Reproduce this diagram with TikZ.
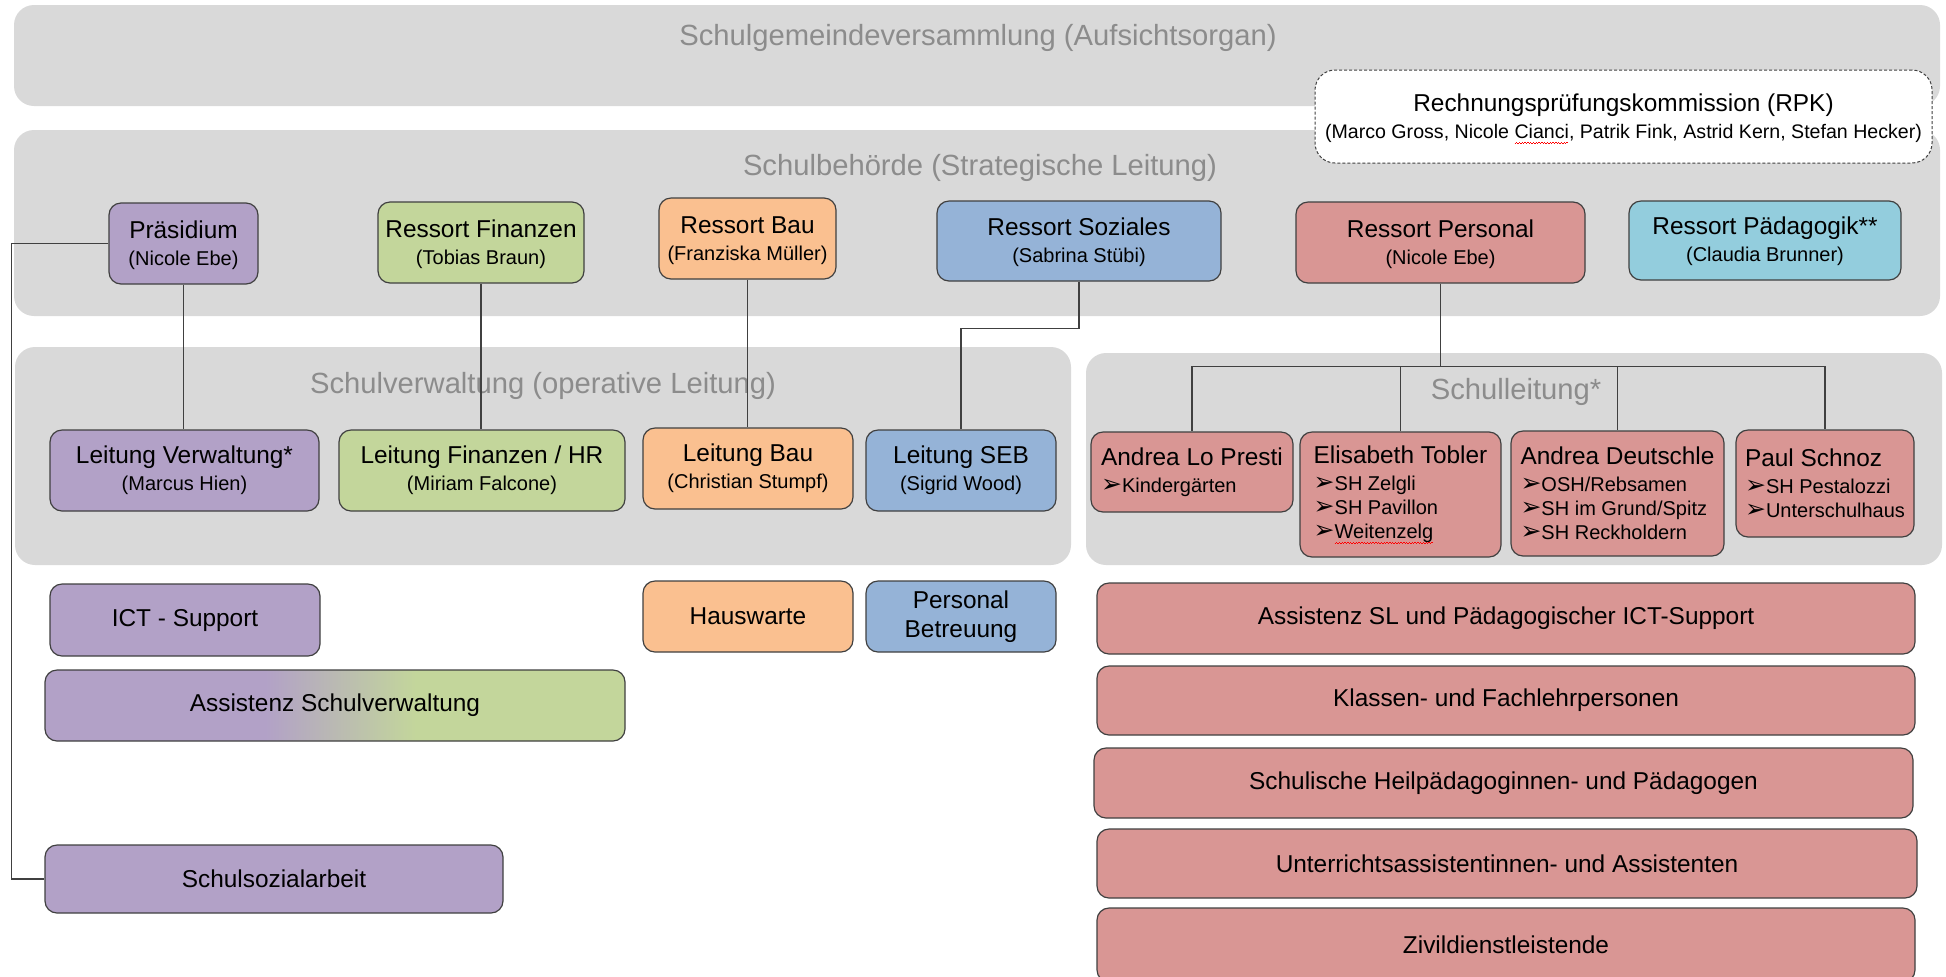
\documentclass[tikz,border=0pt]{standalone}
\usepackage{fontspec}
\setmainfont{Liberation Sans}
\newfontfamily\dingfont{DejaVu Sans}
\usepackage{xcolor}
\usetikzlibrary{positioning}

\definecolor{bandgray}{HTML}{D9D9D9}
\definecolor{titlegray}{HTML}{8C8C8C}
\definecolor{linegray}{HTML}{404040}
\definecolor{vwpurple}{HTML}{B2A1C7}
\definecolor{figreen}{HTML}{C3D69B}
\definecolor{bauorange}{HTML}{FAC090}
\definecolor{sozblue}{HTML}{95B3D7}
\definecolor{perspink}{HTML}{D99694}
\definecolor{paedcyan}{HTML}{93CDDD}

\pgfdeclarehorizontalshading{vwgradient}{100bp}{color(0bp)=(vwpurple); color(44bp)=(vwpurple); color(57bp)=(figreen); color(100bp)=(figreen)}

\newcommand{\namef}{\fontsize{12.2}{13.5}\selectfont}
\newcommand{\subf}{\fontsize{10}{12}\selectfont}
\newcommand{\titlef}{\fontsize{14.6}{17}\selectfont}
\newcommand{\bul}{{\dingfont\fontsize{12.5}{12}\selectfont\char"27A2}}
\newcommand{\bnl}{\\[-1.4pt]}
\newcommand{\spellwave}[1]{\setbox0\hbox{#1}\leavevmode\rlap{\color{red}\leaders\hbox{\raisebox{-2.5pt}{\rule{0.7pt}{0.4pt}}\raisebox{-2pt}{\rule{0.7pt}{0.4pt}}}\hskip\wd0}\box0}

\begin{document}
\begin{tikzpicture}[x=0.5pt, y=-0.5pt,
	span/.style n args={4}{at={({(#1+#3)/2},{(#2+#4)/2})}, minimum width={(#3-#1)*0.5pt}, minimum height={(#4-#2)*0.5pt}},
	band/.style={fill=bandgray, rounded corners=10pt, inner sep=0pt},
	bandtitle/.style={text=titlegray, font=\titlef, inner sep=0pt},
	orgbox/.style={draw=linegray, line width=0.6pt, rounded corners=6pt, inner sep=0pt, align=center, font=\namef},
	slbox/.style={orgbox, fill=perspink, align=left},
	link/.style={draw=linegray, line width=0.7pt}]
	\useasboundingbox (0,0) rectangle (1946,976);

	% bands
	\node[band, span={14}{5}{1940}{106}] (sgvband) {};
	\node[bandtitle] (sgv) at (978,38) {Schulgemeindeversammlung (Aufsichtsorgan)};
	\node[band, span={14}{130}{1940}{316}] (sbband) {};
	\node[bandtitle] (sb) at (980,168) {Schulbehörde (Strategische Leitung)};
	\node[band, span={15}{347}{1071}{565}] (svband) {};
	\node[bandtitle] (sv) at (543,386) {Schulverwaltung (operative Leitung)};
	\node[band, span={1086}{353}{1942}{565}] (slband) {};
	\node[bandtitle] (sl) at (1516,392) {Schulleitung*};

	\node[orgbox, dash pattern=on 1.5pt off 1pt, line width=0.5pt, fill=white, rounded corners=10pt, span={1315}{70}{1932}{163}] (rpk)
		{\rule{0pt}{11pt}Rechnungsprüfungskommission (RPK)\\{\fontsize{9.8}{12}\selectfont (Marco Gross, Nicole \spellwave{Cianci}, Patrik Fink, Astrid Kern, Stefan Hecker)}};

	% Schulbehoerde
	\node[orgbox, fill=vwpurple, span={109}{203}{258}{284}] (praes) {\rule{0pt}{11pt}Präsidium\\{\subf (Nicole Ebe)}};
	\node[orgbox, fill=figreen, span={378}{202}{584}{283}] (resfin) {\rule{0pt}{11pt}Ressort Finanzen\\{\subf (Tobias Braun)}};
	\node[orgbox, fill=bauorange, span={659}{198}{836}{279}] (resbau) {\rule{0pt}{11pt}Ressort Bau\\{\subf (Franziska Müller)}};
	\node[orgbox, fill=sozblue, span={937}{201}{1221}{281}] (ressoz) {\rule{0pt}{10pt}Ressort Soziales\\{\subf (Sabrina Stübi)}};
	\node[orgbox, fill=perspink, span={1296}{202}{1585}{283}] (respers) {\rule{0pt}{11pt}Ressort Personal\\{\subf (Nicole Ebe)}};
	\node[orgbox, fill=paedcyan, span={1629}{201}{1901}{280}] (respaed) {\rule{0pt}{10pt}Ressort Pädagogik**\\{\subf (Claudia Brunner)}};

	% Schulverwaltung
	\node[orgbox, fill=vwpurple, span={50}{430}{319}{511}] (lverw) {Leitung Verwaltung*\\{\subf (Marcus Hien)}};
	\node[orgbox, fill=figreen, span={339}{430}{625}{511}] (lfin) {Leitung Finanzen / HR\\{\subf (Miriam Falcone)}};
	\node[orgbox, fill=bauorange, span={643}{428}{853}{509}] (lbau) {Leitung Bau\\{\subf (Christian Stumpf)}};
	\node[orgbox, fill=sozblue, span={866}{430}{1056}{511}] (lseb) {Leitung SEB\\{\subf (Sigrid Wood)}};

	% Schulleitung
	\node[slbox, span={1091}{432}{1293}{512}] (lopresti) {Andrea Lo Presti\\{\subf\bul Kindergärten}};
	\node[slbox, span={1300}{432}{1501}{557}] (tobler) {Elisabeth Tobler\\{\subf\bul SH Zelgli}\bnl{\subf\bul SH Pavillon}\bnl{\subf\bul \spellwave{Weitenzelg}}};
	\node[slbox, span={1511}{431}{1724}{556}] (deutschle) {Andrea Deutschle\\{\subf\bul OSH/Rebsamen}\bnl{\subf\bul SH im Grund/Spitz}\bnl{\subf\bul SH Reckholdern}};
	\node[slbox, span={1736}{430}{1914}{537}] (schnoz) {Paul Schnoz\\{\subf\bul SH Pestalozzi}\bnl{\subf\bul Unterschulhaus}};

	% untere Ebene
	\node[orgbox, fill=vwpurple, span={50}{584}{320}{656}] (ict) {ICT - Support};
	\node[orgbox, shade, shading=vwgradient, span={45}{670}{625}{741}] (assist) {Assistenz Schulverwaltung};
	\node[orgbox, fill=bauorange, span={643}{581}{853}{652}] (hausw) {Hauswarte};
	\node[orgbox, fill=sozblue, span={866}{581}{1056}{652}] (persbet) {Personal\\[1pt]Betreuung};
	\node[orgbox, fill=vwpurple, span={45}{845}{503}{913}] (ssa) {Schulsozialarbeit};

	\node[orgbox, fill=perspink, span={1097}{583}{1915}{654}] (asl) {Assistenz SL und Pädagogischer ICT-Support};
	\node[orgbox, fill=perspink, span={1097}{666}{1915}{735}] (klp) {Klassen- und Fachlehrpersonen};
	\node[orgbox, fill=perspink, span={1094}{748}{1913}{818}] (shp) {Schulische Heilpädagoginnen- und Pädagogen};
	\node[orgbox, fill=perspink, span={1097}{829}{1917}{898}] (uas) {Unterrichtsassistentinnen- und Assistenten};
	\node[orgbox, fill=perspink, span={1097}{908}{1915}{982}] (zdl) {Zivildienstleistende};

	% Verbindungen
	\draw[link] (praes.south) -- (praes.south |- lverw.north);
	\draw[link] (resfin.south) -- (resfin.south |- lfin.north);
	\draw[link] (resbau.south) -- (resbau.south |- lbau.north);
	\draw[link] (ressoz.south) -- ++(0,47) -| (lseb.north);
	\draw[link] (praes.west) -- ++(-97,0) |- (ssa.west);
	\draw[link] (respers.south) -- ++(0,83) coordinate (slbus);
	\foreach \sl in {lopresti,tobler,deutschle,schnoz}
		\draw[link] (slbus) -| (\sl.north);
\end{tikzpicture}
\end{document}
